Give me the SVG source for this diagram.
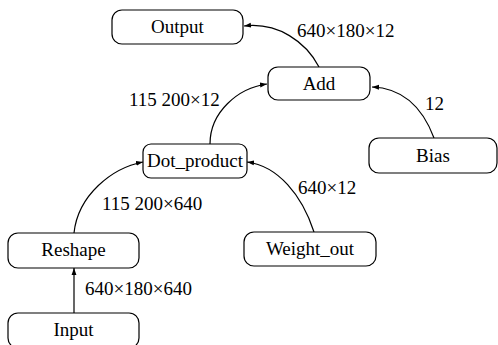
<svg xmlns="http://www.w3.org/2000/svg" width="498" height="345" viewBox="0 0 498 345">
<style>
.box{fill:#fff;stroke:#000;stroke-width:1.2}
.t{font-family:"Liberation Serif","Times New Roman",serif;font-size:19px;fill:#000}
.c{text-anchor:middle}
.e{fill:none;stroke:#000;stroke-width:1.2;marker-end:url(#a)}
</style>
<defs>
<marker id="a" viewBox="0 0 10 10" refX="10" refY="5" markerWidth="7" markerHeight="7" markerUnits="userSpaceOnUse" orient="auto">
<path d="M0,1.5 L10,5 L0,8.5 z" fill="#000"/>
</marker>
</defs>
<rect width="498" height="345" fill="#fff"/>
<g id="connectors">
<path class="e" d="M74,313 L74,268"/>
<path class="e" d="M74,233 C78,195 112,168 143,162"/>
<path class="e" d="M314,232 C302,195 278,166 247,162"/>
<path class="e" d="M210,144 C210,112 238,88 267,84"/>
<path class="e" d="M434,138 C422,106 402,88 372,87"/>
<path class="e" d="M319,67 C306,42 278,22 244,26"/>
</g>
<g id="labels">
<text class="t" x="297" y="37">640×180×12</text>
<text class="t" x="129" y="106">115 200×12</text>
<text class="t" x="425" y="110">12</text>
<text class="t" x="298" y="194">640×12</text>
<text class="t" x="102" y="210">115 200×640</text>
<text class="t" x="85" y="295">640×180×640</text>
</g>
<g id="node-output"><rect class="box" x="112" y="10" width="131" height="34" rx="10"/><text class="t c" x="177.5" y="33">Output</text></g>
<g id="node-add"><rect class="box" x="268" y="67" width="102" height="33" rx="10"/><text class="t c" x="319" y="90">Add</text></g>
<g id="node-dot"><rect class="box" x="143" y="144" width="104" height="34" rx="8"/><text class="t c" x="195" y="167">Dot_product</text></g>
<g id="node-bias"><rect class="box" x="369" y="138" width="128" height="35" rx="10"/><text class="t c" x="433" y="162">Bias</text></g>
<g id="node-reshape"><rect class="box" x="8" y="233" width="131" height="35" rx="10"/><text class="t c" x="73.5" y="256">Reshape</text></g>
<g id="node-weight"><rect class="box" x="244" y="232" width="132" height="34" rx="10"/><text class="t c" x="310" y="255">Weight_out</text></g>
<g id="node-input"><rect class="box" x="8" y="313" width="131" height="35" rx="10"/><text class="t c" x="73.5" y="336">Input</text></g>
</svg>
